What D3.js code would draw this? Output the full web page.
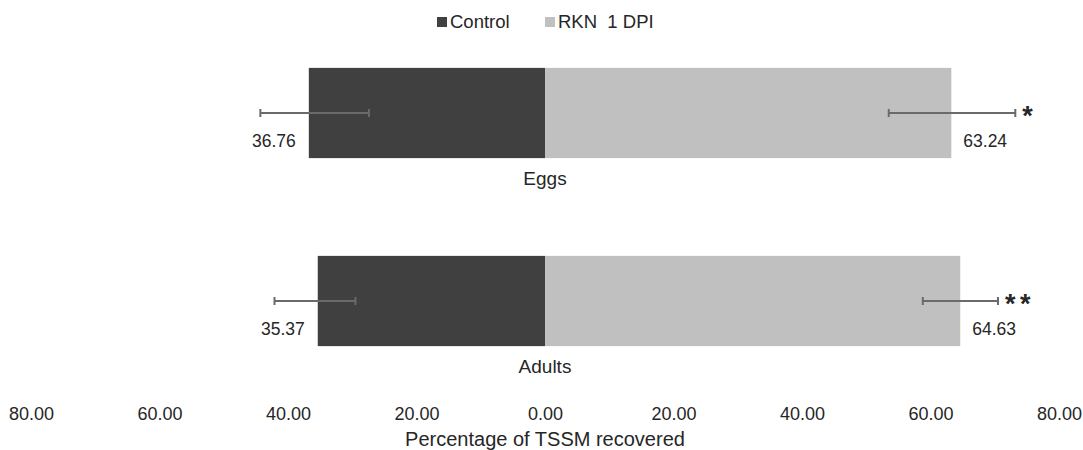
<!DOCTYPE html>
<html>
<head>
<meta charset="utf-8">
<script src="https://cdn.jsdelivr.net/npm/d3@7"></script>
<style>
  body { margin: 0; background: #fff; }
  text { font-family: "Liberation Sans", Arial, sans-serif; fill: #262626; }
</style>
</head>
<body>
<div id="wrapper"></div>
<script>
// data
const categories = ["Eggs", "Adults"];
const seriesNames = ["Control", "RKN  1 DPI"];
const controlValues = [36.76, 35.37];
const rknValues = [63.24, 64.63];
// error bar ends (low, high) in percent
const controlErr = [[27.4, 44.3], [29.5, 42.1]];
const rknErr = [[53.5, 73.2], [58.8, 70.5]];
const signif = ["*", "**"];
const tickValues = [-80, -60, -40, -20, 0, 20, 40, 60, 80];

const width = 1083;
const height = 450;
const colors = ["#404040", "#c0c0c0"];

const svg = d3.select("#wrapper")
  .append("svg")
  .attr("width", width)
  .attr("height", height);

// scales
const xScale = d3.scaleLinear()
  .domain([-80, 80])
  .range([31, 1059]);

const yScale = d3.scaleBand()
  .domain(categories)
  .range([19, 395])
  .paddingInner(0.52)
  .paddingOuter(0.26);

const rows = categories.map((c, i) => ({
  cat: c,
  control: controlValues[i],
  rkn: rknValues[i],
  cErr: controlErr[i],
  rErr: rknErr[i],
  sig: signif[i],
}));

const bars = svg.append("g");

// control bars go left of zero
bars.selectAll(".ctrl")
  .data(rows)
  .join("rect")
  .attr("class", "ctrl")
  .attr("x", d => xScale(-d.control))
  .attr("y", d => yScale(d.cat))
  .attr("width", d => xScale(0) - xScale(-d.control))
  .attr("height", yScale.bandwidth())
  .attr("fill", colors[0]);

bars.selectAll(".rkn")
  .data(rows)
  .join("rect")
  .attr("class", "rkn")
  .attr("x", xScale(0))
  .attr("y", d => yScale(d.cat))
  .attr("width", d => xScale(d.rkn) - xScale(0))
  .attr("height", yScale.bandwidth())
  .attr("fill", colors[1]);

// error bars
const errs = [];
rows.forEach(d => {
  errs.push({ cat: d.cat, x1: -d.cErr[0], x2: -d.cErr[1] });
  errs.push({ cat: d.cat, x1: d.rErr[0], x2: d.rErr[1] });
});
const cy = d => yScale(d.cat) + yScale.bandwidth() / 2;
const errG = svg.append("g")
  .attr("stroke", "#6a6a6a")
  .attr("stroke-width", 2);
errG.selectAll(".eline")
  .data(errs)
  .join("line")
  .attr("x1", d => xScale(d.x1))
  .attr("x2", d => xScale(d.x2))
  .attr("y1", cy)
  .attr("y2", cy);
errG.selectAll(".cap")
  .data(errs.flatMap(d => [{ cat: d.cat, x: d.x1 }, { cat: d.cat, x: d.x2 }]))
  .join("line")
  .attr("x1", d => xScale(d.x))
  .attr("x2", d => xScale(d.x))
  .attr("y1", d => cy(d) - 4)
  .attr("y2", d => cy(d) + 4);

// value labels
svg.selectAll(".lblc")
  .data(rows)
  .join("text")
  .attr("x", d => xScale(-d.control) - 13)
  .attr("y", d => cy(d) + 34)
  .attr("text-anchor", "end")
  .style("font-size", "17.5px")
  .text(d => d.control.toFixed(2));

svg.selectAll(".lblr")
  .data(rows)
  .join("text")
  .attr("x", d => xScale(d.rkn) + 12)
  .attr("y", d => cy(d) + 34)
  .style("font-size", "17.5px")
  .text(d => d.rkn.toFixed(2));

// significance stars
svg.selectAll(".sig")
  .data(rows)
  .join("text")
  .attr("x", d => xScale(d.rErr[1]) + 7)
  .attr("y", d => cy(d) + 12)
  .style("font-size", "27px")
  .style("font-weight", "bold")
  .style("letter-spacing", "4.5px")
  .text(d => d.sig);

// category labels
svg.selectAll(".cat")
  .data(rows)
  .join("text")
  .attr("x", xScale(0))
  .attr("y", d => cy(d) + 72)
  .attr("text-anchor", "middle")
  .style("font-size", "19px")
  .text(d => d.cat);

// x axis: labels only
const xAxis = svg.append("g")
  .attr("transform", "translate(0, 404)")
  .call(d3.axisBottom(xScale)
    .tickValues(tickValues)
    .tickSize(0)
    .tickFormat(d => Math.abs(d).toFixed(2)));
xAxis.select(".domain").remove();
xAxis.selectAll("text")
  .style("font-size", "18px")
  .style("font-family", "\"Liberation Sans\", Arial, sans-serif")
  .attr("fill", "#262626");

svg.append("text")
  .attr("x", xScale(0))
  .attr("y", 446)
  .attr("text-anchor", "middle")
  .style("font-size", "20px")
  .text("Percentage of TSSM recovered");

// legend
const legendX = [437, 545];
const legend = svg.append("g");
legend.selectAll("rect")
  .data(seriesNames)
  .join("rect")
  .attr("x", (d, i) => legendX[i])
  .attr("y", 17)
  .attr("width", 10)
  .attr("height", 10)
  .attr("fill", (d, i) => colors[i]);
legend.selectAll("text")
  .data(seriesNames)
  .join("text")
  .attr("x", (d, i) => legendX[i] + 13)
  .attr("y", 28)
  .style("font-size", "18.5px")
  .style("white-space", "pre")
  .text(d => d);
</script>
</body>
</html>
